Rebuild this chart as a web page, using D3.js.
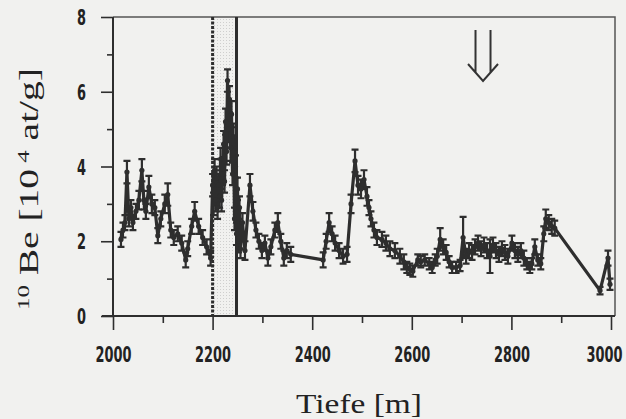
<!DOCTYPE html>
<html><head><meta charset="utf-8">
<script src="https://cdn.jsdelivr.net/npm/d3@7"></script>
<style>
html,body{margin:0;padding:0;background:#f1f1ef;}
svg{display:block;}
</style></head>
<body>
<svg id="c" width="626" height="419"></svg>
<script>
// ---- data ----
const depth = [2016,2020,2024,2028,2032,2036,2040,2046,2052,2058,2062,2066,2072,2078,2084,2090,2096,2104,2110,2116,2122,2130,2138,2146,2150,2158,2164,2172,2180,2188,2196,
 2200,2202,2204,2206,2208,2210,2212,2214,2216,2218,2220,2222,2224,2226,2228,2230,2232,2234,2236,2238,2240,2242,2244,2246,2248,2250,2252,2254,2256,2260,2265,
 2275,2281,2287,2293,2299,2305,2311,2317,2325,2331,2337,2343,2349,2357,2422,2428,2434,2440,2446,2454,2462,2470,2478,2486,2492,2498,2504,2510,2514,2518,2524,2530,
 2540,2548,2556,2566,2576,2584,2590,2596,2602,2612,2618,2626,2635,2641,2647,2651,2657,2663,2669,2675,2681,2689,2697,2703,2709,2715,2721,2727,2733,2739,2745,2751,2757,
 2763,2769,2775,2781,2787,2793,2801,2807,2813,2819,2825,2831,2837,2841,2847,2853,2859,2865,2869,2875,2881,2887,2978,2994,2998];
const be10 = [2.05,2.3,2.5,3.85,2.6,2.9,2.5,2.8,3.1,3.9,3.1,2.8,3.45,3.0,2.9,2.15,2.6,3.0,3.25,2.3,2.1,2.2,1.95,1.5,1.8,2.4,2.8,2.4,2.1,1.85,1.55,
 3.5,3.0,3.9,3.1,3.7,2.9,3.5,3.2,4.2,3.1,3.8,4.6,3.6,5.2,4.4,6.3,5.0,5.8,4.5,5.4,3.8,4.8,2.6,4.0,2.2,3.4,2.0,2.9,1.8,2.5,1.75,
 3.5,2.8,2.3,2.0,1.75,1.95,1.55,1.85,2.3,2.5,2.0,1.55,1.75,1.65,1.5,2.0,2.5,2.2,1.95,1.75,1.6,1.65,3.0,4.15,3.5,3.4,3.65,3.2,2.9,2.6,2.3,2.1,
 2.05,1.95,1.8,1.75,1.6,1.45,1.3,1.25,1.2,1.5,1.45,1.5,1.4,1.3,1.5,1.6,2.05,1.85,1.7,1.45,1.3,1.3,1.35,2.1,1.6,1.75,1.7,1.85,1.95,1.8,1.9,1.75,1.6,
 1.9,1.75,1.65,1.8,1.7,1.6,1.95,1.75,1.65,1.75,1.55,1.4,1.3,1.4,1.85,1.5,1.4,2.2,2.6,2.5,2.4,2.35,0.68,1.55,0.85];
const errs = [.2,.2,.2,.3,.2,.2,.2,.2,.25,.3,.25,.2,.3,.25,.2,.2,.2,.25,.3,.2,.2,.2,.2,.2,.2,.2,.25,.2,.2,.2,.2,
 .3,.3,.3,.3,.3,.3,.3,.3,.3,.3,.3,.35,.3,.35,.35,.3,.35,.35,.35,.35,.3,.35,.3,.3,.3,.3,.3,.3,.25,.25,.25,
 .3,.25,.2,.2,.2,.2,.2,.2,.2,.25,.2,.2,.2,.2,.2,.2,.25,.2,.2,.2,.2,.2,.25,.3,.25,.25,.25,.25,.2,.2,.2,.2,
 .2,.2,.2,.2,.2,.2,.15,.15,.15,.15,.15,.15,.15,.15,.15,.2,.3,.2,.2,.15,.15,.15,.15,.55,.2,.2,.2,.2,.2,.2,.2,.2,.45,
 .2,.2,.2,.2,.2,.2,.2,.2,.2,.2,.2,.15,.15,.15,.2,.15,.15,.2,.25,.2,.2,.2,.1,.2,.15];
const xMajor = [2000,2200,2400,2600,2800,3000];
const xMinor = [2100,2300,2500,2700,2900];
const yMajor = [0,2,4,6,8];
const yMinor = [1,3,5,7];
const zoneStart = 2200, zoneEnd = 2248;   // marked depth interval
const arrowDepth = 2743;

const data = depth.map((d,i)=>({d, v:be10[i], e:errs[i]}));

const svg = d3.select("#c");
const x = d3.scaleLinear().domain([2000,3000]).range([113,611]);
const y = d3.scaleLinear().domain([0,8]).range([316,17]);
const ink = "#2e2e2e";

// stipple pattern for the marked zone
const defs = svg.append("defs");
const pat = defs.append("pattern").attr("id","dots").attr("width",3).attr("height",3).attr("patternUnits","userSpaceOnUse");
pat.append("rect").attr("x",1).attr("y",1).attr("width",1).attr("height",1).attr("fill","#b8b8b8");

svg.append("rect").attr("x",x(zoneStart)).attr("y",y(8)).attr("width",x(zoneEnd)-x(zoneStart)).attr("height",y(0)-y(8)).attr("fill","url(#dots)").attr("opacity",0.6);

// frame (top/right)
svg.append("path").attr("d",`M${x(2000)},${y(8)}H615V${y(0)}`).attr("fill","none").attr("stroke","#555").attr("stroke-width",1.5);

// zone lines
svg.append("line").attr("x1",x(zoneStart)).attr("x2",x(zoneStart)).attr("y1",y(8)).attr("y2",y(0))
  .attr("stroke",ink).attr("stroke-width",3).attr("stroke-dasharray","3,1.5");
svg.append("line").attr("x1",x(zoneEnd)).attr("x2",x(zoneEnd)).attr("y1",y(8)).attr("y2",y(0))
  .attr("stroke",ink).attr("stroke-width",3);

// axes
const tickFont = "'Liberation Sans Narrow','DejaVu Sans Condensed',sans-serif";
const gx = svg.append("g").attr("transform",`translate(0,${y(0)})`)
  .call(d3.axisBottom(x).tickValues(xMajor).tickSize(14).tickPadding(17).tickFormat(d3.format("d")));
const gxm = svg.append("g").attr("transform",`translate(0,${y(0)})`)
  .call(d3.axisBottom(x).tickValues(xMinor).tickSize(7).tickFormat(""));
const gy = svg.append("g").attr("transform",`translate(${x(2000)},0)`)
  .call(d3.axisLeft(y).tickValues(yMajor).tickSize(12).tickPadding(15).tickFormat(d3.format("d")));
const gym = svg.append("g").attr("transform",`translate(${x(2000)},0)`)
  .call(d3.axisLeft(y).tickValues(yMinor).tickSize(6).tickFormat(""));
[gx,gxm,gy,gym].forEach(g=>{
  g.select(".domain").remove();
  g.selectAll(".tick line").attr("stroke",ink).attr("stroke-width",1.6);
  g.selectAll(".tick text").attr("fill","#222").style("font-family",tickFont).style("font-weight","bold").style("font-size","21px");
});
// condense the tick labels (narrow bold face in the original)
gx.selectAll(".tick text").each(function(d){
  const nw = this.getComputedTextLength(), sx = 36/nw;
  const cx = d===3000 ? -7 : 0;
  const ty = this.getAttribute("y");
  this.setAttribute("x",0); this.setAttribute("y",0);
  this.setAttribute("transform",`translate(${cx},${ty}) scale(${sx},1)`);
});
gy.selectAll(".tick text").attr("dy","0.36em").each(function(){
  const nw = this.getComputedTextLength(), sx = 9/nw;
  const tx = this.getAttribute("x");
  this.setAttribute("x",0);
  this.setAttribute("transform",`translate(${tx},0) scale(${sx},1)`);
});
// axis lines
svg.append("line").attr("x1",102).attr("x2",615).attr("y1",y(0)).attr("y2",y(0)).attr("stroke",ink).attr("stroke-width",2);
svg.append("line").attr("x1",x(2000)).attr("x2",x(2000)).attr("y1",y(8)).attr("y2",y(0)).attr("stroke",ink).attr("stroke-width",2);

// error bars
const eb = svg.append("g").attr("stroke",ink).attr("stroke-width",2.2).attr("fill","none");
eb.selectAll("path").data(data).join("path")
  .attr("d",p=>{const cx=x(p.d), t=y(p.v+p.e), b=y(p.v-p.e);
    return `M${cx},${t}V${b}M${cx-3.5},${t}H${cx+3.5}M${cx-3.5},${b}H${cx+3.5}`;});

// line
svg.append("path").datum(data)
  .attr("d",d3.line().x(p=>x(p.d)).y(p=>y(p.v)))
  .attr("fill","none").attr("stroke",ink).attr("stroke-width",3.2).attr("stroke-linejoin","round");
svg.append("g").selectAll("circle").data(data).join("circle")
  .attr("cx",p=>x(p.d)).attr("cy",p=>y(p.v)).attr("r",2.6).attr("fill",ink);

// arrow
const ax = x(arrowDepth);
svg.append("path").attr("d",`M${ax-7.5},30V72M${ax+7.5},30V72M${ax-15},64L${ax},81L${ax+15},64`)
  .attr("fill","none").attr("stroke","#333").attr("stroke-width",2);

// axis titles
const serif = "'Liberation Serif','Times New Roman',serif";
const xt = svg.append("text").attr("text-anchor","middle").attr("fill","#222")
  .style("font-family",serif).style("font-size","27px").text("Tiefe [m]");
let w = xt.node().getComputedTextLength();
xt.attr("transform",`translate(359,413) scale(${126/w},1)`);

const yt = svg.append("text").attr("text-anchor","middle").attr("fill","#222")
  .style("font-family",serif).style("font-size","27px");
yt.append("tspan").style("font-size","17px").attr("dy","-9").text("10");
yt.append("tspan").attr("dy","9").text(" Be [10");
yt.append("tspan").style("font-size","17px").attr("dy","-9").text(" 4");
yt.append("tspan").attr("dy","9").text(" at/g]");
w = yt.node().getComputedTextLength();
yt.attr("transform",`translate(38,189) rotate(-90) scale(${242/w},1)`);
</script>
</body></html>
